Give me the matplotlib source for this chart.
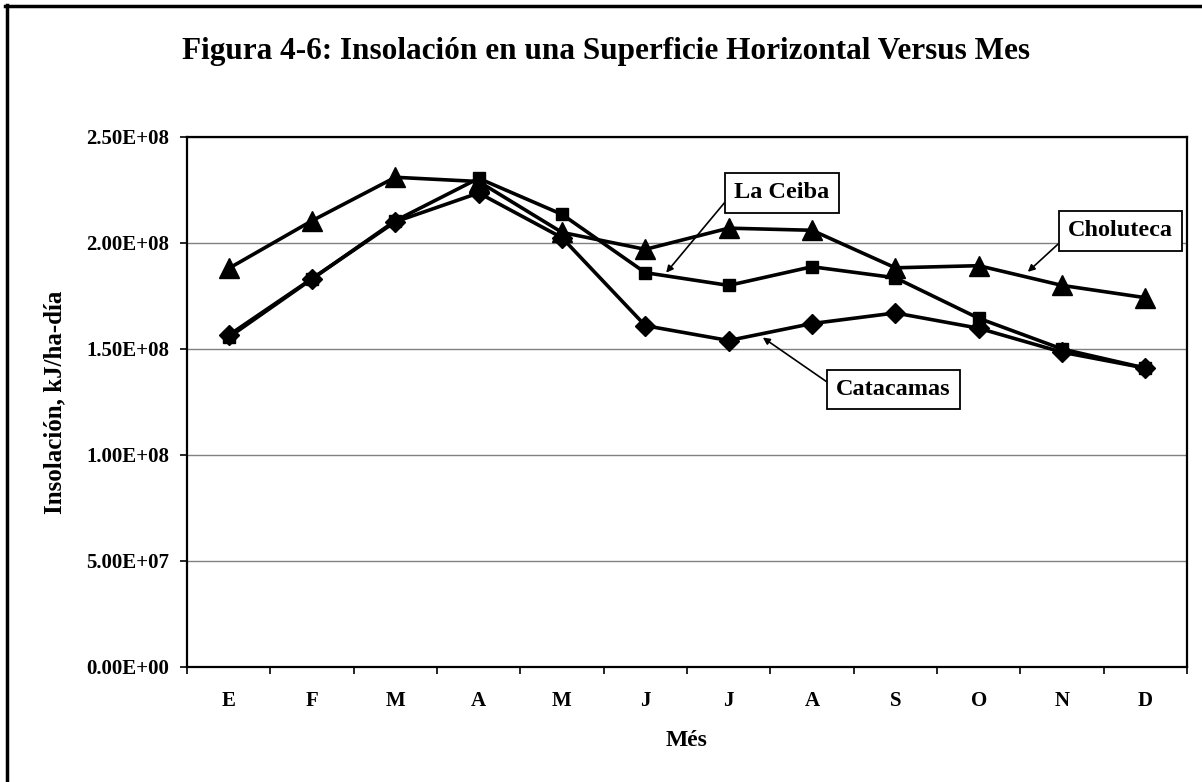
import matplotlib
matplotlib.use("Agg")
import matplotlib.pyplot as plt
from matplotlib.lines import Line2D
from matplotlib.ticker import FuncFormatter, FixedLocator

plt.rcParams['font.family'] = ['Liberation Serif', 'DejaVu Serif']
plt.rcParams['font.weight'] = 'bold'

# meses (E..D) e insolación, kJ/ha-día
meses = ['E', 'F', 'M', 'A', 'M', 'J', 'J', 'A', 'S', 'O', 'N', 'D']
choluteca = [1.88e8, 2.105e8, 2.31e8, 2.29e8, 2.05e8, 1.97e8,
             2.07e8, 2.06e8, 1.883e8, 1.893e8, 1.80e8, 1.742e8]
la_ceiba = [1.555e8, 1.83e8, 2.105e8, 2.305e8, 2.135e8, 1.86e8,
            1.80e8, 1.888e8, 1.836e8, 1.645e8, 1.50e8, 1.41e8]
catacamas = [1.565e8, 1.832e8, 2.10e8, 2.236e8, 2.025e8, 1.61e8,
             1.54e8, 1.62e8, 1.67e8, 1.598e8, 1.485e8, 1.41e8]
y_ticks = [0, 5e7, 1e8, 1.5e8, 2e8, 2.5e8]

fig = plt.figure(figsize=(12.02, 7.82), dpi=100)
ax = fig.add_axes([187 / 1202, 1 - 667 / 782, 1000 / 1202, 530 / 782])

x = list(range(len(meses)))
ax.plot(x, choluteca, color='black', lw=2.6, marker='^', ms=14, zorder=3)
ax.plot(x, la_ceiba, color='black', lw=2.6, marker='s', ms=8, zorder=4)
ax.plot(x, catacamas, color='black', lw=2.6, marker='D', ms=10, zorder=3)

ax.set_xlim(-0.5, len(meses) - 0.5)
ax.set_ylim(0, 2.5e8)
ax.set_yticks(y_ticks)
ax.yaxis.set_major_formatter(FuncFormatter(lambda v, p: f"{v:.2E}"))
ax.set_xticks(x)
ax.set_xticklabels(meses)
ax.xaxis.set_minor_locator(FixedLocator([i - 0.5 for i in range(len(meses) + 1)]))
ax.tick_params(axis='x', which='major', length=0, pad=17, labelsize=15)
ax.tick_params(axis='x', which='minor', length=5, width=1.2, direction='out')
ax.tick_params(axis='y', length=5, width=1.2, direction='out', pad=8, labelsize=15)
for lab in ax.get_xticklabels() + ax.get_yticklabels():
    lab.set_fontweight('bold')

ax.grid(axis='y', color='#808080', lw=1)
ax.set_axisbelow(True)
for s in ax.spines.values():
    s.set_linewidth(1.6)
    s.set_color('black')

ax.set_xlabel('Més', fontsize=17, fontweight='bold', labelpad=14)
ax.set_ylabel('Insolación, kJ/ha-día', fontsize=18, fontweight='bold', labelpad=14)

fig.text(606 / 1202, 1 - 52 / 782,
         'Figura 4-6: Insolación en una Superficie Horizontal Versus Mes',
         ha='center', va='center', fontsize=22.5, fontweight='bold')

# etiquetas con flecha
box = dict(boxstyle='square,pad=0.38', fc='white', ec='black', lw=1.3)
arrow = dict(arrowstyle='-|>', color='black', lw=1.2, mutation_scale=10,
             shrinkA=0, shrinkB=0)
ax.annotate('La Ceiba', xy=(5.25, 1.86e8), xytext=(6.64, 2.236e8),
            ha='center', va='center', fontsize=17.5, fontweight='bold',
            bbox=box, arrowprops=dict(arrow, relpos=(0, 0.6)), zorder=6)
ax.annotate('Catacamas', xy=(6.41, 1.554e8), xytext=(7.98, 1.309e8),
            ha='center', va='center', fontsize=17.5, fontweight='bold',
            bbox=box, arrowprops=dict(arrow, relpos=(0, 0.55)), zorder=6)
ax.annotate('Choluteca', xy=(9.59, 1.864e8), xytext=(10.70, 2.057e8),
            ha='center', va='center', fontsize=17.5, fontweight='bold',
            bbox=box, arrowprops=dict(arrow, relpos=(0, 0.3)), zorder=6)

# marco exterior (solo arriba e izquierda visibles)
fig.add_artist(Line2D([5 / 1202, 1.0], [1 - 6 / 782, 1 - 6 / 782],
                      color='black', lw=2.5, transform=fig.transFigure))
fig.add_artist(Line2D([7 / 1202, 7 / 1202], [0.0, 1 - 5 / 782],
                      color='black', lw=2.5, transform=fig.transFigure))

fig.savefig('out.png', dpi=100)
